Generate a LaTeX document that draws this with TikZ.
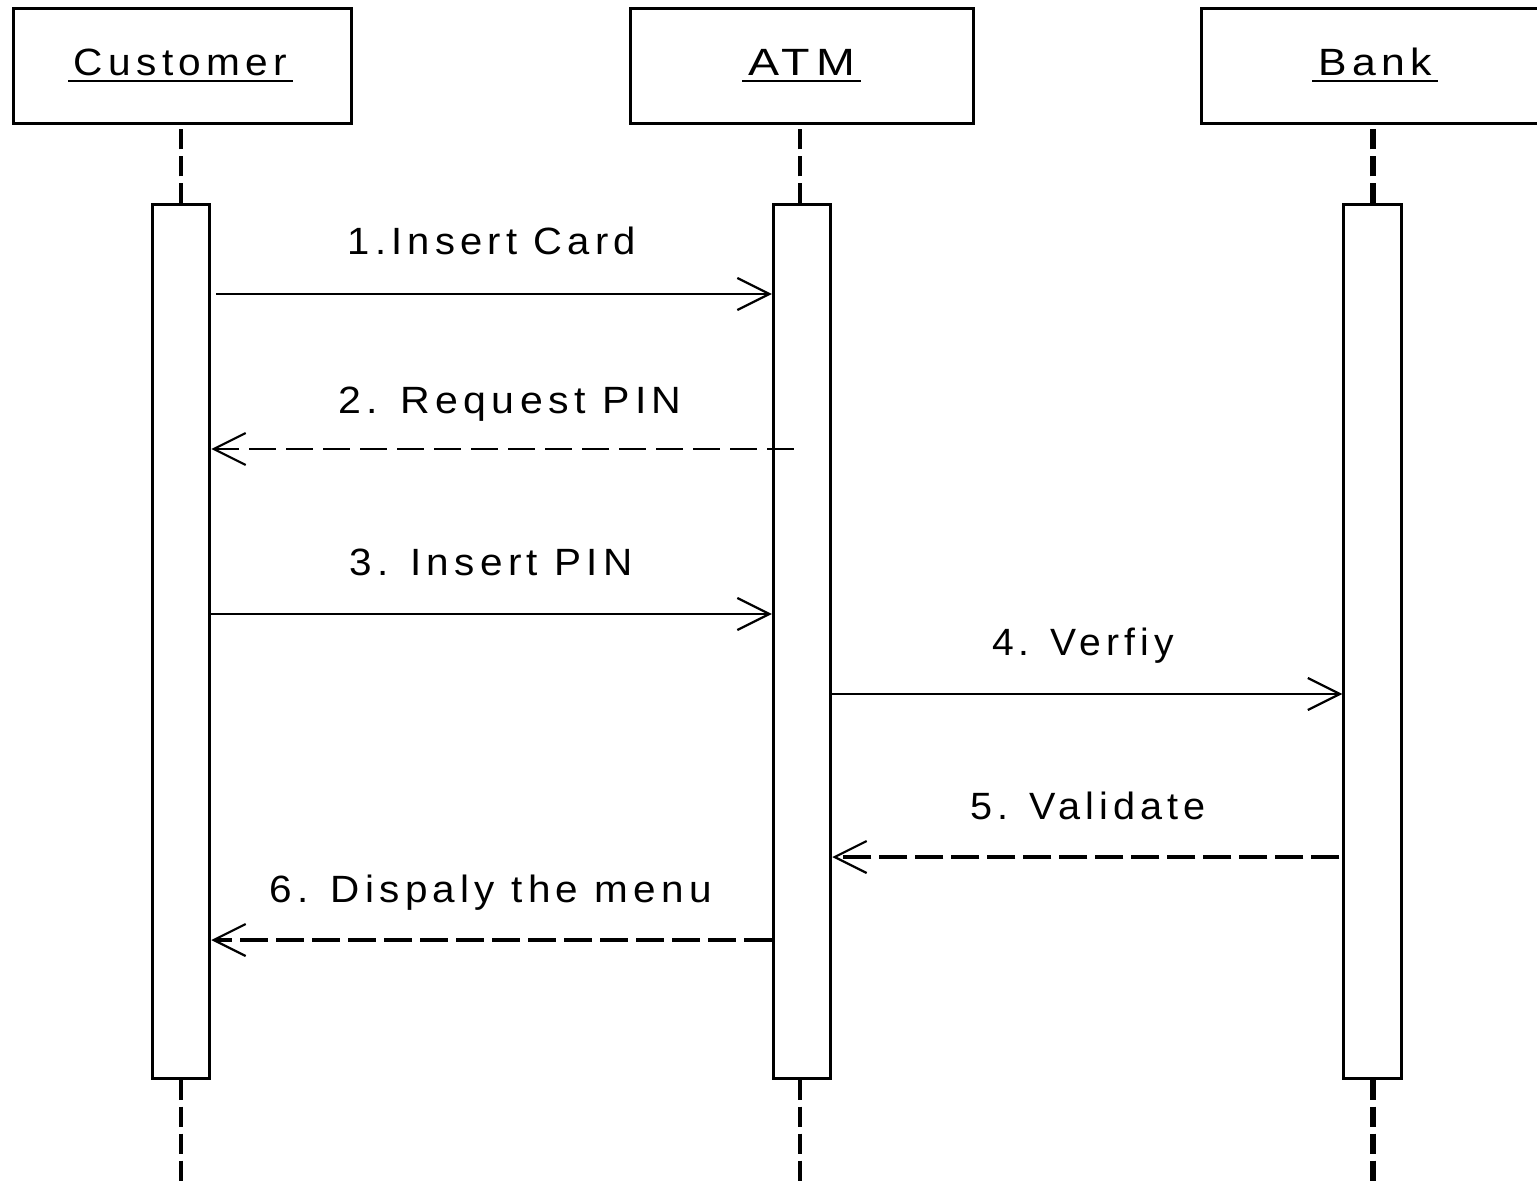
\documentclass[tikz,border=0pt]{standalone}
\usepackage{fontspec}
\usepackage{graphicx}
\usetikzlibrary{arrows.meta}
\newfontfamily\lblfont{Liberation Sans}[LetterSpace=13]
% letter-spaced label stretched to a given width
\newcommand{\fitlabel}[2]{\resizebox{#1}{\height}{\lblfont\fontsize{19pt}{21pt}\selectfont #2}}
\begin{document}
\begin{tikzpicture}[x=0.5pt,y=-0.5pt,
  head/.style={draw, line width=1.5pt, minimum height=57.5pt, inner sep=0pt},
  act/.style={draw, fill=white, line width=1.5pt, minimum width=28.75pt, minimum height=436.5pt, inner sep=0pt},
  lbl/.style={inner sep=0pt, anchor=base},
  uline/.style={line width=1.25pt},
  life/.style={line width=1.8pt, dash pattern=on 10pt off 3.5pt},
  lifebold/.style={line width=3.2pt, dash pattern=on 10pt off 3.5pt},
  tip/.style={-{Straight Barb[length=16pt,width=16pt,line width=1.1pt]}},
  call/.style={tip, line width=1pt},
  callb/.style={tip, line width=1.4pt},
  reply/.style={tip, line width=1.3pt, dash pattern=on 13.5pt off 5pt},
  replyb/.style={tip, line width=2.2pt, dash pattern=on 14pt off 4pt}]
\useasboundingbox (0,0) rectangle (1537,1182);

% object boxes
\node[head, minimum width=169pt]   (cHead) at (182.5,66) {};
\node[head, minimum width=171.5pt] (aHead) at (801.5,66) {};
\node[head, minimum width=179.5pt] (bHead) at (1380.5,66) {};

% object names, underlined
\node[lbl] (cName) at (180.5,76) {\fitlabel{106.5pt}{Customer}};
\node[lbl] (aName) at (801.5,76) {\fitlabel{53.5pt}{ATM}};
\node[lbl] (bName) at (1375,76)  {\fitlabel{57pt}{Bank}};
\foreach \n in {cName,aName,bName}
  \draw[uline] ([xshift=-2.75pt,yshift=-2.5pt]\n.base west) -- ([xshift=2.75pt,yshift=-2.5pt]\n.base east);

% activation bars
\node[act] (cAct) at (181,641.5) {};
\node[act] (aAct) at (802,641.5) {};
\node[act] (bAct) at (1372.5,641.5) {};

% lifeline ends at the bottom
\coordinate (cEnd) at (181,1182);
\coordinate (aEnd) at (800,1182);
\coordinate (bEnd) at (1373,1182);

% lifelines
\draw[life] (cAct.north) -- (cAct.north |- cHead.south);
\draw[life] (cAct.south) -- (cEnd);
\draw[life] (aAct.north -| aEnd) -- (aEnd |- aHead.south);
\draw[life] (aAct.south -| aEnd) -- (aEnd);
\draw[lifebold] (bAct.north -| bEnd) -- (bEnd |- bHead.south);
\draw[lifebold] (bAct.south -| bEnd) -- (bEnd);

% message levels
\coordinate (y1) at (0,294);
\coordinate (y2) at (0,449);
\coordinate (y3) at (0,614);
\coordinate (y4) at (0,694);
\coordinate (y5) at (0,857);
\coordinate (y6) at (0,940);

% messages
\draw[call, shorten <=2.5pt] (cAct.east |- y1) -- (aAct.west |- y1);
\draw[reply, shorten <=-11pt] (aAct.west |- y2) -- (cAct.east |- y2);
\draw[call] (cAct.east |- y3) -- (aAct.west |- y3);
\draw[callb] (aAct.east |- y4) -- (bAct.west |- y4);
\draw[replyb, shorten <=1.5pt] (bAct.west |- y5) -- (aAct.east |- y5);
\draw[replyb] (aAct.west |- y6) -- (cAct.east |- y6);

% message labels
\node[lbl] (t1) at (492,255)  {\fitlabel{144pt}{1.Insert Card}};
\node[lbl] (t2) at (510,413)  {\fitlabel{171.5pt}{2. Request PIN}};
\node[lbl] (t3) at (491,575)  {\fitlabel{141.5pt}{3. Insert PIN}};
\node[lbl] (t4) at (1083,655) {\fitlabel{91pt}{4. Verfiy}};
\node[lbl] (t5) at (1088,819) {\fitlabel{118pt}{5. Validate}};
\node[lbl] (t6) at (491,902)  {\fitlabel{221pt}{6. Dispaly the menu}};
\end{tikzpicture}
\end{document}
